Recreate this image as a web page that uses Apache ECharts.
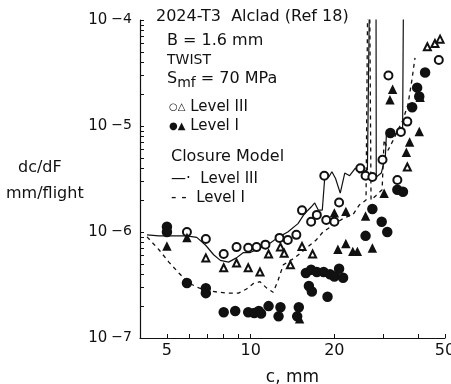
<!DOCTYPE html>
<html>
<head>
<meta charset="utf-8">
<script src="https://cdn.jsdelivr.net/npm/echarts@6/dist/echarts.min.js"></script>
<style>
  html, body { margin: 0; padding: 0; background: #fff; }
  #crackRate { width: 451px; height: 384px; }
</style>
</head>
<body>
<div id="crackRate"></div>
<script>
// crack length c (mm), dc/dF (mm/flight)
const lv3Circles = [
  [5.9, 1.0e-6], [6.9, 8.6e-7], [8.0, 6.2e-7], [8.9, 7.2e-7], [9.8, 7.1e-7],
  [10.5, 7.2e-7], [11.3, 7.6e-7], [12.7, 8.8e-7], [13.6, 8.4e-7], [14.6, 9.4e-7],
  [15.3, 1.6e-6], [16.5, 1.25e-6], [17.3, 1.45e-6], [18.4, 3.4e-6], [18.7, 1.3e-6],
  [20.0, 1.25e-6], [20.8, 1.9e-6], [24.8, 4.0e-6], [25.9, 3.4e-6], [27.4, 3.3e-6],
  [29.8, 4.8e-6], [31.3, 3.0e-5], [33.7, 3.1e-6], [34.7, 8.8e-6], [36.6, 1.1e-5],
  [47.5, 4.2e-5]
];
const lv3Triangles = [
  [6.9, 5.7e-7], [8.0, 4.6e-7], [8.9, 5.1e-7], [9.8, 4.6e-7], [10.8, 4.2e-7],
  [11.6, 6.2e-7], [12.8, 7.2e-7], [13.2, 6.3e-7], [13.9, 4.9e-7], [15.3, 7.3e-7],
  [16.7, 6.2e-7], [36.6, 4.1e-6], [43.2, 5.6e-5], [46.0, 6.0e-5], [48.0, 6.6e-5]
];
const lv1Circles = [
  [5.0, 1.12e-6], [5.0, 1.0e-6], [5.9, 3.3e-7], [6.9, 2.95e-7], [6.9, 2.65e-7],
  [8.0, 1.75e-7], [8.8, 1.8e-7], [9.8, 1.75e-7], [10.3, 1.72e-7], [10.7, 1.8e-7],
  [10.9, 1.7e-7], [11.6, 2.0e-7], [12.6, 1.6e-7], [12.8, 1.95e-7], [14.7, 1.6e-7],
  [14.9, 1.95e-7], [15.8, 4.1e-7], [16.5, 4.4e-7], [17.3, 4.2e-7], [18.3, 4.2e-7],
  [19.3, 4.0e-7], [20.0, 3.8e-7], [20.8, 4.5e-7], [21.5, 3.7e-7], [16.2, 3.1e-7],
  [16.6, 2.75e-7], [18.9, 2.45e-7], [25.9, 9.2e-7], [27.4, 1.65e-6], [29.6, 1.25e-6],
  [31.0, 1.0e-6], [31.8, 8.6e-6], [33.7, 2.5e-6], [35.3, 2.4e-6], [38.1, 1.5e-5],
  [39.7, 2.3e-5], [40.4, 1.9e-5], [42.4, 3.2e-5]
];
const lv1Triangles = [
  [5.0, 7.3e-7], [5.9, 8.8e-7], [15.0, 1.5e-7], [20.0, 1.5e-6], [20.6, 6.8e-7],
  [22.0, 7.7e-7], [22.0, 1.55e-6], [23.3, 6.5e-7], [24.2, 6.5e-7], [25.9, 1.4e-6],
  [27.4, 7.0e-7], [30.2, 2.3e-6], [31.7, 1.75e-5], [32.4, 2.2e-5], [36.3, 5.6e-6],
  [37.3, 7.0e-6], [40.4, 8.8e-6], [40.7, 1.85e-5]
];
// closure model predictions
const modelLv3 = [
  [4.24, 9.4e-7], [4.68, 9.2e-7], [5.29, 9.2e-7], [5.89, 9.2e-7], [6.40, 8.9e-7],
  [6.89, 7.5e-7], [7.36, 6.1e-7], [7.78, 5.4e-7], [8.33, 5.2e-7], [8.89, 5.7e-7],
  [9.42, 6.4e-7], [9.97, 6.4e-7], [10.48, 6.8e-7], [11.1, 7.3e-7], [11.7, 7.8e-7],
  [12.55, 8.9e-7], [13.6, 1.0e-6], [14.8, 1.2e-6], [15.6, 1.48e-6], [16.5, 1.72e-6],
  [17.0, 1.88e-6], [17.5, 1.61e-6], [18.1, 1.61e-6], [18.5, 3.45e-6], [19.1, 3.3e-6],
  [19.6, 3.7e-6], [20.2, 3.2e-6], [21.0, 2.33e-6], [21.8, 3.6e-6], [22.7, 3.4e-6],
  [23.8, 4.0e-6], [24.6, 3.6e-6], [26.3, 3.85e-6], [27.1, 3e-3], [28.2, 3e-3],
  [28.3, 3.3e-6], [29.5, 3.6e-6], [30.5, 5.1e-6], [30.8, 8.6e-6], [32.6, 8.3e-6],
  [34.0, 8.6e-6], [35.2, 9.6e-6], [35.7, 3e-3]
];
const modelLv1 = [
  [4.24, 9.0e-7], [4.68, 6.8e-7], [5.08, 5.2e-7], [5.52, 4.1e-7], [5.99, 3.3e-7],
  [6.51, 2.97e-7], [7.06, 2.8e-7], [7.67, 2.7e-7], [8.33, 2.65e-7], [9.04, 2.65e-7],
  [9.66, 2.9e-7], [10.2, 3.25e-7], [10.8, 3.4e-7], [11.4, 2.97e-7], [12.05, 2.7e-7],
  [12.55, 3.5e-7], [13.1, 4.9e-7], [13.6, 5.2e-7], [14.4, 5.7e-7], [15.2, 6.4e-7],
  [16.1, 7.3e-7], [17.2, 8.4e-7], [18.2, 1.0e-6], [19.2, 1.1e-6], [20.6, 1.25e-6],
  [21.8, 1.37e-6], [23.3, 1.45e-6], [24.6, 1.8e-6], [26.0, 2.0e-6], [26.6, 3e-3],
  [27.0, 3e-3], [27.1, 2.0e-6], [28.2, 2.2e-6], [29.7, 2.5e-6], [30.2, 7.4e-6],
  [31.2, 5.9e-6], [32.6, 7.4e-6], [33.9, 9.2e-6], [35.3, 1.14e-5], [36.8, 1.6e-5],
  [38.0, 2.7e-5], [39.0, 4.4e-5]
];
const xLabels = [5, 10, 20, 50];
const xTickMarks = [5, 6, 7, 8, 9, 10, 20, 30, 40, 50];
const yLabels = [1e-7, 1e-6, 1e-5, 1e-4];
const yTickMarks = [
  1e-7, 2e-7, 3e-7, 4e-7, 5e-7, 6e-7, 7e-7, 8e-7, 9e-7,
  1e-6, 2e-6, 3e-6, 4e-6, 5e-6, 6e-6, 7e-6, 8e-6, 9e-6,
  1e-5, 2e-5, 3e-5, 4e-5, 5e-5, 6e-5, 7e-5, 8e-5, 9e-5, 1e-4
];

const ink = '#111';
const font = 'DejaVu Sans';

let myChart = echarts.init(document.getElementById('crackRate'), null, {renderer: 'canvas'});

function marks(data, symbol, size) {
  return {
    type: 'scatter',
    data: data,
    symbol: symbol,
    symbolSize: size,
    itemStyle: {color: ink, borderColor: ink, borderWidth: 1.5, opacity: 1},
    z: 3
  };
}

myChart.setOption({
  backgroundColor: '#fff',
  animation: false,
  grid: {left: 140, right: 6, top: 20, bottom: 46, outerBoundsMode: 'none', containLabel: false},
  textStyle: {fontFamily: font, color: ink},
  xAxis: {
    type: 'log',
    logBase: 10,
    min: 4,
    max: 50,
    name: 'c, mm',
    nameLocation: 'middle',
    nameGap: 31,
    nameTextStyle: {fontSize: 17, color: ink, fontFamily: font},
    axisLine: {lineStyle: {color: ink, width: 1.2}},
    axisTick: {inside: true, length: 4, customValues: xTickMarks, lineStyle: {color: ink}},
    axisLabel: {customValues: xLabels, fontSize: 16, color: ink, margin: 5, fontFamily: font},
    splitLine: {show: false}
  },
  yAxis: {
    type: 'log',
    logBase: 10,
    min: 1e-7,
    max: 1e-4,
    axisLine: {lineStyle: {color: ink, width: 1.2}},
    axisTick: {inside: true, length: 4, customValues: yTickMarks, lineStyle: {color: ink}},
    axisLabel: {
      customValues: yLabels,
      margin: 8,
      formatter: function (v) {
        let e = Math.round(Math.log10(v));
        return '{a|10}{b|' + (e < 0 ? '\u2212' + (-e) : e) + '}';
      },
      rich: {
        a: {fontSize: 15, lineHeight: 15, padding: [7, 0, 0, 0], verticalAlign: 'bottom', color: ink, fontFamily: font},
        b: {fontSize: 14, lineHeight: 13, verticalAlign: 'top', padding: [0, 0, 0, 4], color: ink, fontFamily: font}
      }
    },
    splitLine: {show: false}
  },
  graphic: [
    {type: 'text', left: 18, top: 160, style: {text: 'dc/dF', font: '16px "DejaVu Sans"', fill: ink}},
    {type: 'text', left: 6, top: 186, style: {text: 'mm/flight', font: '16px "DejaVu Sans"', fill: ink}},
    {type: 'text', left: 156, top: 9, style: {text: '2024-T3  Alclad (Ref 18)', font: '16px "DejaVu Sans"', fill: ink}},
    {type: 'text', left: 167, top: 33, style: {text: 'B = 1.6 mm', font: '16px "DejaVu Sans"', fill: ink}},
    {type: 'text', left: 167, top: 53, style: {text: 'TWIST', font: '14px "DejaVu Sans"', fill: ink}},
    {type: 'text', left: 167, top: 71, style: {
      text: '{s|S}{m|mf}{s| = 70 MPa}',
      rich: {
        s: {fontSize: 16, fontFamily: font, fill: ink},
        m: {fontSize: 14, fontFamily: font, fill: ink, padding: [8, 0, 0, 0]}
      }
    }},
    {type: 'text', left: 169, top: 100, style: {
      text: '{k|\u25CB\u25B3}{t| Level III}',
      rich: {k: {fontSize: 10, fontFamily: font, fill: ink}, t: {fontSize: 15, fontFamily: font, fill: ink}}
    }},
    {type: 'text', left: 169, top: 119, style: {
      text: '{k|\u25CF\u25B2}{t| Level I}',
      rich: {k: {fontSize: 10, fontFamily: font, fill: ink}, t: {fontSize: 15, fontFamily: font, fill: ink}}
    }},
    {type: 'text', left: 171, top: 149, style: {text: 'Closure Model', font: '16px "DejaVu Sans"', fill: ink}},
    {type: 'text', left: 171, top: 172, style: {text: '\u2014\u00B7  Level III', font: '15px "DejaVu Sans"', fill: ink}},
    {type: 'text', left: 171, top: 191, style: {text: '- -  Level I', font: '15px "DejaVu Sans"', fill: ink}}
  ],
  series: [
    {
      type: 'line',
      name: 'Model Level III',
      data: modelLv3,
      showSymbol: false,
      lineStyle: {color: ink, width: 1.2},
      clip: true,
      z: 2
    },
    {
      type: 'line',
      name: 'Model Level I',
      data: modelLv1,
      showSymbol: false,
      lineStyle: {color: ink, width: 1.3, type: [4, 4]},
      clip: true,
      z: 2
    },
    marks(lv3Circles, 'emptyCircle', 8),
    marks(lv3Triangles, 'emptyTriangle', 7),
    marks(lv1Circles, 'circle', 9),
    marks(lv1Triangles, 'triangle', 7)
  ]
});

window.addEventListener('resize', function () {
  myChart.resize();
});
</script>
</body>
</html>
